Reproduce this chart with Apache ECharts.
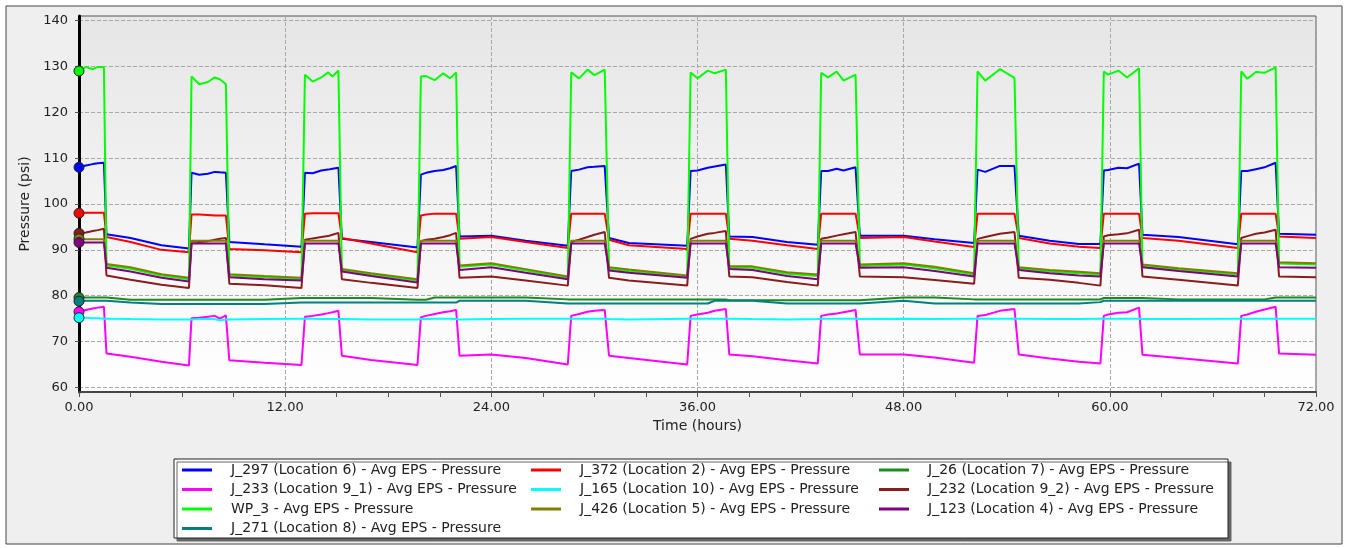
<!DOCTYPE html>
<html>
<head>
<meta charset="utf-8">
<script src="https://cdn.jsdelivr.net/npm/echarts@6/dist/echarts.min.js"></script>
<style>
html, body { margin: 0; padding: 0; background: #ffffff; }
#chart { width: 1348px; height: 548px; }
</style>
</head>
<body>
<div id="chart"></div>
<script>
// time axis (hours), shared by every series
const hours = [0, 0.4, 0.8, 1.1, 1.45,
  1.6, 3.0, 4.8, 6.4,
  6.55, 7.0, 7.5, 7.9, 8.2, 8.55,
  8.75, 10.8, 12.95,
  13.15, 13.6, 14.1, 14.5, 14.75, 15.1,
  15.3, 17.0, 19.7,
  19.9, 20.2, 20.7, 21.2, 21.6, 21.95,
  22.15, 24.0, 26.0, 28.45,
  28.65, 29.1, 29.6, 30.0, 30.6,
  30.85, 32.0, 35.4,
  35.6, 36.0, 36.6, 37.0, 37.65,
  37.85, 39.2, 41.2, 43.0,
  43.2, 43.6, 44.1, 44.5, 45.2,
  45.45, 48.0, 49.8, 52.1,
  52.3, 52.75, 53.6, 54.45,
  54.7, 56.5, 58.2, 59.45,
  59.65, 59.9, 60.5, 61.0, 61.7,
  61.9, 64.0, 67.45,
  67.65, 68.0, 68.5, 69.0, 69.65,
  69.85, 72.0];

const j297 = [108.0, 108.4, 108.7, 108.9, 109.0,
  93.4, 92.6, 91.0, 90.3,
  106.8, 106.4, 106.6, 107.0, 106.9, 106.8,
  91.7, 91.2, 90.7,
  106.8, 106.7, 107.3, 107.5, 107.7, 107.9,
  92.4, 91.7, 90.5,
  106.4, 106.8, 107.2, 107.4, 107.8, 108.3,
  92.9, 93.1, 92.0, 90.9,
  107.2, 107.5, 108.0, 108.1, 108.3,
  92.6, 91.5, 90.9,
  107.2, 107.3, 107.9, 108.2, 108.6,
  92.9, 92.8, 91.7, 91.1,
  107.2, 107.2, 107.7, 107.3, 108.0,
  93.1, 93.1, 92.3, 91.5,
  107.5, 107.0, 108.3, 108.3,
  93.1, 92.0, 91.3, 91.3,
  107.3, 107.4, 107.9, 107.8, 108.8,
  93.3, 92.8, 91.2,
  107.2, 107.2, 107.6, 108.0, 109.0,
  93.5, 93.3];

const j372 = [98.0, 98.1, 98.1, 98.1, 98.1,
  92.8, 91.7, 90.0, 89.5,
  97.7, 97.7, 97.6, 97.5, 97.5, 97.5,
  90.2, 89.9, 89.5,
  97.9, 98.0, 98.0, 98.0, 98.0, 98.0,
  92.6, 91.4, 89.5,
  97.5, 97.7, 97.9, 97.9, 97.9, 97.9,
  92.4, 92.8, 91.7, 90.4,
  97.9, 97.9, 97.9, 97.9, 97.9,
  92.2, 91.0, 90.2,
  97.9, 97.9, 97.9, 97.9, 97.9,
  92.4, 92.0, 91.0, 90.2,
  97.9, 97.9, 97.9, 97.9, 97.9,
  92.6, 92.8, 91.8, 90.6,
  97.9, 97.9, 97.9, 97.9,
  92.6, 91.4, 90.7, 90.4,
  97.9, 97.9, 97.9, 97.9, 97.9,
  92.6, 92.0, 90.4,
  97.9, 97.9, 97.9, 97.9, 97.9,
  92.9, 92.6];

const j26 = [79.6, 79.6, 79.6, 79.6, 79.6,
  79.6, 79.1, 79.1, 79.1,
  79.1, 79.1, 79.1, 79.1, 79.1, 79.1,
  79.1, 79.1, 79.5,
  79.5, 79.5, 79.5, 79.5, 79.5, 79.5,
  79.5, 79.5, 79.1,
  79.1, 79.1, 79.6, 79.6, 79.6, 79.6,
  79.6, 79.6, 79.6, 79.2,
  79.2, 79.2, 79.2, 79.2, 79.2,
  79.2, 79.2, 79.2,
  79.2, 79.2, 79.2, 79.2, 79.2,
  79.0, 79.0, 79.0, 79.0,
  79.0, 79.0, 79.0, 79.0, 79.0,
  79.0, 79.6, 79.6, 79.2,
  79.2, 79.2, 79.2, 79.2,
  79.2, 79.2, 79.2, 79.2,
  79.5, 79.5, 79.5, 79.5, 79.5,
  79.5, 79.2, 79.2,
  79.2, 79.2, 79.2, 79.2, 79.6,
  79.6, 79.6];

const j233 = [76.5, 76.9, 77.2, 77.4, 77.6,
  67.4, 66.7, 65.6, 64.8,
  75.1, 75.2, 75.4, 75.6, 75.0, 75.7,
  65.9, 65.4, 64.9,
  75.4, 75.6, 75.9, 76.2, 76.4, 76.7,
  66.9, 66.0, 64.9,
  75.3, 75.6, 76.0, 76.4, 76.6, 76.9,
  66.9, 67.2, 66.4, 65.0,
  75.6, 76.0, 76.5, 76.7, 76.9,
  66.9, 66.4, 65.0,
  75.6, 75.9, 76.3, 76.7, 77.1,
  67.2, 66.8, 65.9, 65.2,
  75.6, 75.9, 76.1, 76.4, 76.9,
  67.2, 67.2, 66.5, 65.4,
  75.6, 75.8, 76.7, 77.1,
  67.2, 66.3, 65.6, 65.2,
  75.6, 75.9, 76.3, 76.4, 77.4,
  67.1, 66.4, 65.2,
  75.6, 75.9, 76.5, 77.0, 77.6,
  67.4, 67.1];

const j165 = [75.2, 75.2, 75.1, 75.1, 75.0,
  75.0, 74.9, 74.8, 74.8,
  74.8, 74.9, 74.9, 74.9, 74.6, 74.8,
  74.8, 74.9, 75.0,
  75.0, 75.0, 74.9, 74.9, 74.9, 74.9,
  74.9, 74.8, 74.8,
  74.9, 74.9, 75.0, 75.0, 75.0, 74.9,
  74.8, 74.9, 75.0, 75.0,
  75.0, 75.0, 75.0, 75.0, 75.0,
  74.9, 74.8, 75.0,
  75.0, 75.0, 75.0, 75.0, 75.0,
  75.0, 74.9, 74.8, 74.9,
  75.0, 75.0, 75.0, 75.0, 75.0,
  74.9, 75.0, 74.9, 75.0,
  75.0, 75.0, 75.0, 75.0,
  75.0, 74.9, 74.9, 75.0,
  75.0, 75.0, 75.0, 75.0, 75.0,
  74.9, 74.9, 75.0,
  75.0, 75.0, 75.0, 75.0, 75.0,
  75.0, 75.0];

const j232 = [93.6, 93.8, 94.1, 94.3, 94.6,
  84.4, 83.5, 82.4, 81.7,
  91.9, 91.7, 91.9, 92.2, 92.4, 92.6,
  82.6, 82.3, 81.7,
  92.2, 92.5, 92.8, 93.0, 93.3, 93.7,
  83.6, 82.8, 81.7,
  91.9, 92.2, 92.4, 92.8, 93.2, 93.7,
  83.9, 84.2, 83.3, 82.2,
  91.7, 92.2, 92.8, 93.3, 93.9,
  83.9, 83.3, 82.2,
  92.4, 92.9, 93.5, 93.7, 94.1,
  84.2, 84.0, 83.0, 82.2,
  92.4, 92.7, 93.1, 93.4, 93.9,
  84.2, 84.0, 83.4, 82.6,
  92.4, 92.8, 93.5, 93.9,
  83.9, 83.5, 82.8, 82.2,
  92.9, 93.2, 93.4, 93.6, 94.4,
  84.2, 83.5, 82.2,
  92.6, 93.0, 93.5, 93.8, 94.4,
  84.2, 84.0];

const wp3 = [129.0, 129.9, 129.4, 129.9, 129.9,
  86.6, 85.9, 84.4, 83.6,
  127.8, 126.1, 126.6, 127.6, 127.2, 126.1,
  84.4, 84.0, 83.6,
  128.2, 126.7, 127.6, 128.7, 127.8, 129.1,
  85.5, 84.6, 83.3,
  127.8, 127.9, 127.0, 128.5, 127.4, 128.7,
  86.3, 86.8, 85.5, 83.9,
  128.7, 127.4, 129.3, 128.1, 129.3,
  85.9, 85.4, 84.1,
  128.7, 127.4, 129.1, 128.5, 129.3,
  86.1, 86.1, 84.8, 84.3,
  128.6, 127.6, 128.9, 126.9, 128.2,
  86.5, 86.8, 86.0, 84.6,
  128.9, 126.9, 129.4, 127.5,
  85.9, 85.3, 84.9, 84.6,
  128.9, 128.2, 129.1, 127.6, 129.6,
  86.5, 85.7, 84.6,
  128.9, 127.3, 128.8, 128.6, 129.8,
  87.0, 86.8];

const j426 = [92.4, 92.3, 92.3, 92.3, 92.3,
  86.9, 86.2, 84.7, 83.9,
  92.0, 92.0, 92.0, 92.0, 92.0, 92.0,
  84.7, 84.3, 83.9,
  92.0, 92.0, 92.0, 92.0, 92.0, 92.0,
  85.8, 84.9, 83.6,
  92.0, 92.0, 92.0, 92.0, 92.0, 92.0,
  86.6, 87.1, 85.8, 84.2,
  92.0, 92.0, 92.0, 92.0, 92.0,
  86.2, 85.7, 84.4,
  92.0, 92.0, 92.0, 92.0, 92.0,
  86.4, 86.4, 85.1, 84.6,
  92.0, 92.0, 92.0, 92.0, 92.0,
  86.8, 87.1, 86.3, 84.9,
  92.0, 92.0, 92.0, 92.0,
  86.2, 85.6, 85.2, 84.9,
  92.0, 92.0, 92.0, 92.0, 92.0,
  86.8, 86.0, 84.9,
  92.0, 92.0, 92.0, 92.0, 92.0,
  87.3, 87.1];

const j123 = [91.6, 91.6, 91.6, 91.6, 91.6,
  86.1, 85.3, 83.9, 83.1,
  91.4, 91.4, 91.4, 91.4, 91.4, 91.4,
  84.0, 83.6, 83.3,
  91.4, 91.4, 91.4, 91.4, 91.4, 91.4,
  85.3, 84.3, 82.9,
  91.4, 91.4, 91.4, 91.4, 91.4, 91.4,
  85.6, 86.2, 85.0, 83.6,
  91.4, 91.4, 91.4, 91.4, 91.4,
  85.5, 85.0, 83.9,
  91.4, 91.4, 91.4, 91.4, 91.4,
  85.8, 85.6, 84.3, 83.6,
  91.4, 91.4, 91.4, 91.4, 91.4,
  86.1, 86.2, 85.4, 84.2,
  91.4, 91.4, 91.4, 91.4,
  85.6, 84.9, 84.4, 84.2,
  91.4, 91.4, 91.4, 91.4, 91.4,
  86.2, 85.4, 84.2,
  91.4, 91.4, 91.4, 91.4, 91.4,
  86.2, 86.1];

const j271 = [78.8, 78.9, 78.9, 78.9, 78.9,
  78.9, 78.5, 78.2, 78.2,
  78.2, 78.2, 78.2, 78.2, 78.2, 78.2,
  78.2, 78.2, 78.5,
  78.5, 78.5, 78.5, 78.5, 78.5, 78.5,
  78.5, 78.5, 78.5,
  78.5, 78.5, 78.5, 78.5, 78.5, 78.5,
  78.9, 78.9, 78.9, 78.3,
  78.3, 78.3, 78.3, 78.3, 78.3,
  78.3, 78.3, 78.3,
  78.3, 78.3, 78.3, 78.9, 78.9,
  78.9, 78.9, 78.3, 78.3,
  78.3, 78.3, 78.3, 78.3, 78.3,
  78.3, 78.9, 78.3, 78.3,
  78.3, 78.3, 78.3, 78.3,
  78.3, 78.3, 78.3, 78.6,
  78.9, 78.9, 78.9, 78.9, 78.9,
  78.9, 78.9, 78.9,
  78.9, 78.9, 78.9, 78.9, 78.9,
  78.9, 78.9];

const yTicks = [60, 70, 80, 90, 100, 110, 120, 130, 140];

// drawing order as in the legend (row by row)
const seriesList = [
  { name: 'J_297 (Location 6) - Avg EPS - Pressure', color: '#0000ff', data: j297 },
  { name: 'J_372 (Location 2) - Avg EPS - Pressure', color: '#ff0000', data: j372 },
  { name: 'J_26 (Location 7) - Avg EPS - Pressure', color: '#1e8a1e', data: j26 },
  { name: 'J_233 (Location 9_1) - Avg EPS - Pressure', color: '#ff00ff', data: j233 },
  { name: 'J_165 (Location 10) - Avg EPS - Pressure', color: '#00ffff', data: j165 },
  { name: 'J_232 (Location 9_2) - Avg EPS - Pressure', color: '#8b1c1c', data: j232 },
  { name: 'WP_3 - Avg EPS - Pressure', color: '#00ff00', data: wp3 },
  { name: 'J_426 (Location 5) - Avg EPS - Pressure', color: '#808000', data: j426 },
  { name: 'J_123 (Location 4) - Avg EPS - Pressure', color: '#800080', data: j123 },
  { name: 'J_271 (Location 8) - Avg EPS - Pressure', color: '#008080', data: j271 }
];

const font = 'DejaVu Sans';
const chart = echarts.init(document.getElementById('chart'));

const legendBase = {
  orient: 'vertical',
  top: 462,
  padding: 0,
  itemGap: 3.5,
  icon: 'rect',
  itemWidth: 30,
  itemHeight: 3,
  selectedMode: false,
  itemStyle: { borderWidth: 0 },
  textStyle: { fontFamily: font, fontSize: 14, color: '#222', lineHeight: 16, padding: [0, 0, 0, 14] }
};
const names = seriesList.map(s => s.name);

chart.setOption({
  animation: false,
  backgroundColor: '#ffffff',
  graphic: [
    {
      type: 'rect', z: -10, silent: true,
      shape: { x: 6, y: 6, width: 1336, height: 538 },
      style: { fill: '#efefef', stroke: '#444', lineWidth: 1 }
    },
    {
      type: 'rect', z: -5, silent: true,
      shape: { x: 174, y: 459, width: 1054, height: 79 },
      style: { fill: '#ffffff', stroke: '#222', lineWidth: 1, shadowColor: '#666', shadowOffsetX: 3, shadowOffsetY: 3 }
    }
  ],
  grid: {
    left: 79, right: 32, top: 16, bottom: 156,
    show: true,
    borderColor: '#555',
    borderWidth: 1,
    backgroundColor: new echarts.graphic.LinearGradient(0, 0, 0, 1, [
      { offset: 0, color: '#e6e6e6' },
      { offset: 1, color: '#ffffff' }
    ])
  },
  legend: [
    Object.assign({}, legendBase, { left: 182, data: [names[0], names[3], names[6], names[9]] }),
    Object.assign({}, legendBase, { left: 531, data: [names[1], names[4], names[7]] }),
    Object.assign({}, legendBase, { left: 879, data: [names[2], names[5], names[8]] })
  ],
  xAxis: {
    type: 'value',
    min: 0,
    max: 72,
    interval: 12,
    name: 'Time (hours)',
    nameLocation: 'middle',
    nameGap: 26,
    nameTextStyle: { fontFamily: font, fontSize: 14, color: '#222' },
    axisLine: { show: true, onZero: false, lineStyle: { color: '#444', width: 2 } },
    axisTick: { show: true, length: 5, lineStyle: { color: '#555' } },
    minorTick: { show: true, splitNumber: 4, length: 5, lineStyle: { color: '#555' } },
    axisLabel: { formatter: v => v.toFixed(2), margin: 9, fontFamily: font, fontSize: 13, color: '#222' },
    splitLine: { show: true, lineStyle: { type: 'dashed', color: '#a8a8a8', width: 1 } }
  },
  yAxis: {
    type: 'value',
    min: 59,
    max: 141,
    name: 'Pressure (psi)',
    nameLocation: 'middle',
    nameGap: 42,
    nameTextStyle: { fontFamily: font, fontSize: 14, color: '#222' },
    axisLine: { show: true, lineStyle: { color: '#000', width: 3 } },
    axisTick: { show: true, length: 4, customValues: yTicks, lineStyle: { color: '#555' } },
    axisLabel: { customValues: yTicks, margin: 11, fontFamily: font, fontSize: 13, color: '#222' },
    splitLine: { show: true, lineStyle: { type: 'dashed', color: '#a8a8a8', width: 1 } }
  },
  series: seriesList.map(s => ({
    name: s.name,
    type: 'line',
    data: hours.map((h, i) => [h, s.data[i]]),
    symbol: 'circle',
    showSymbol: true,
    showAllSymbol: true,
    symbolSize: (v, p) => (p.dataIndex === 0 ? 10 : 0),
    lineStyle: { color: s.color, width: 2 },
    itemStyle: { color: s.color, borderColor: '#222', borderWidth: 1 },
    emphasis: { disabled: true }
  }))
});
</script>
</body>
</html>
